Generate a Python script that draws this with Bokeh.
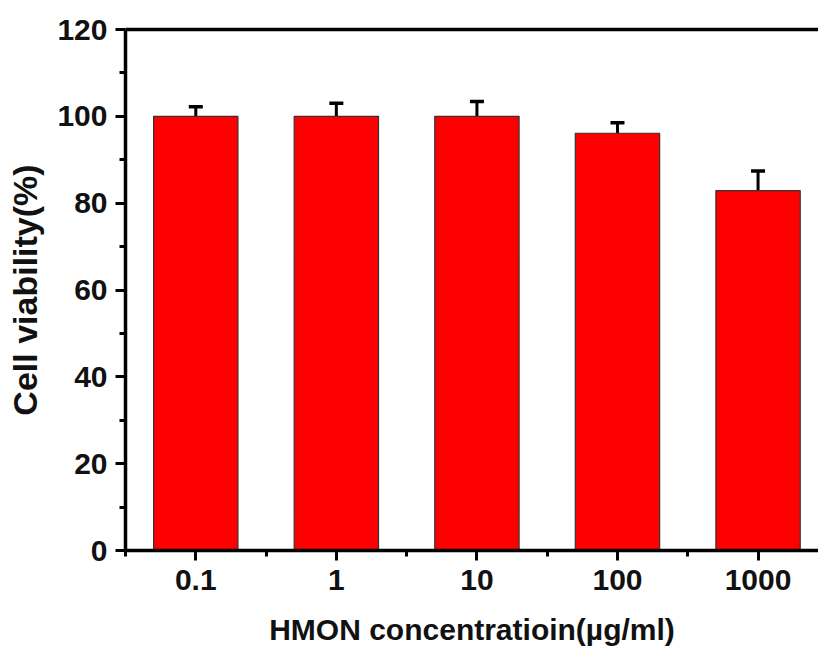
from bokeh.plotting import figure
from bokeh.models import (ColumnDataSource, FixedTicker, LinearAxis, Range1d,
                          Whisker, TeeHead)
from bokeh.embed import file_html
from bokeh.resources import INLINE

categories = ["0.1", "1", "10", "100", "1000"]
viability = [100.0, 100.0, 100.0, 96.1, 82.9]
errors = [2.2, 3.0, 3.4, 2.4, 4.5]
y_ticks = [0, 20, 40, 60, 80, 100, 120]

xs = list(range(1, len(categories) + 1))
upper = [v + e for v, e in zip(viability, errors)]
src = ColumnDataSource(dict(x=xs, top=viability, upper=upper, lower=viability))

FONT = "Liberation Sans"

p = figure(width=818, height=653, output_backend="svg", toolbar_location=None,
           x_range=Range1d(0.5, 5.43), y_range=Range1d(0, 120),
           min_border_left=125, min_border_right=0, min_border_top=29,
           min_border_bottom=103)
p.outline_line_color = None
p.grid.visible = False
p.background_fill_color = "white"
p.border_fill_color = "white"

p.vbar(x="x", top="top", width=0.6, source=src, fill_color="#ff0000",
       line_color="#333333", line_width=1.2)

w = Whisker(base="x", upper="upper", lower="lower", source=src,
            line_color="black", line_width=3,
            upper_head=TeeHead(size=14, line_color="black", line_width=3.5),
            lower_head=None)
p.add_layout(w)

xa = p.xaxis[0]
xa.ticker = FixedTicker(ticks=xs, minor_ticks=[x - 0.5 for x in xs] + [5.5])
xa.major_label_overrides = {x: c for x, c in zip(xs, categories)}
xa.axis_label = "HMON concentratioin(\u00b5g/ml)"

ya = p.yaxis[0]
ya.ticker = FixedTicker(ticks=y_ticks, minor_ticks=[10, 30, 50, 70, 90, 110])
ya.axis_label = "Cell viability(%)"

for ax in (xa, ya):
    ax.axis_line_width = 3.5
    ax.axis_line_color = "black"
    ax.major_tick_line_width = 3
    ax.minor_tick_line_width = 3
    ax.major_tick_line_color = "black"
    ax.minor_tick_line_color = "black"
    ax.major_tick_in = 0
    ax.minor_tick_in = 0
    ax.major_tick_out = 10
    ax.minor_tick_out = 6
    ax.major_label_text_font = FONT
    ax.major_label_text_font_style = "bold"
    ax.major_label_text_font_size = "30px"
    ax.major_label_text_color = "#111111"
    ax.axis_label_text_font = FONT
    ax.axis_label_text_font_style = "bold"
    ax.axis_label_text_color = "#111111"

xa.axis_label_text_font_size = "30px"
ya.axis_label_text_font_size = "34px"
xa.major_label_standoff = 9
xa.axis_label_standoff = 20
ya.major_label_standoff = 8
ya.axis_label_standoff = 10

top = LinearAxis(ticker=FixedTicker(ticks=[]), axis_line_width=3.5,
                 axis_line_color="black", major_label_text_font_size="0px")
p.add_layout(top, "above")

open("out.html", "w").write(file_html(p, INLINE))
